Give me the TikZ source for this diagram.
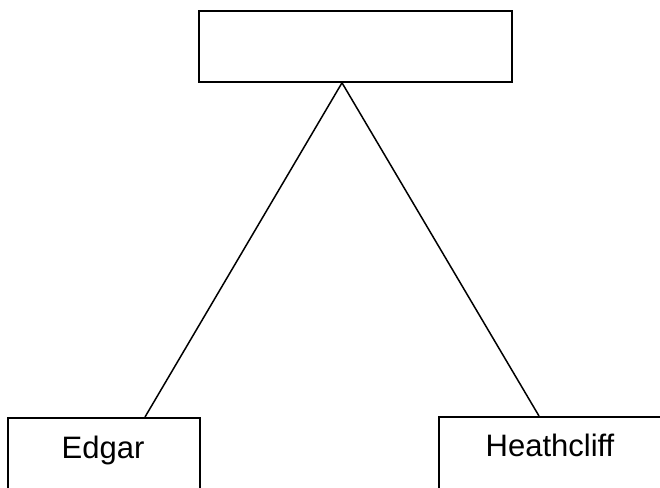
\documentclass[tikz,border=0pt]{standalone}
\usepackage{fontspec}
\setmainfont{Liberation Sans}
\usetikzlibrary{calc}
\begin{document}
\begin{tikzpicture}[x=1pt,y=-1pt,
  box/.style={draw, line width=1.8pt, inner sep=0pt, anchor=north west},
  lbl/.style={anchor=base, inner sep=0pt, font=\fontsize{31}{37}\selectfont},
  link/.style={line width=1.5pt}]
\useasboundingbox (0,0) rectangle (660,487);
\clip (0,0) rectangle (660,487);
\node[box, minimum width=313pt, minimum height=71pt] (top) at (198,10) {};
\node[box, minimum width=192pt, minimum height=80pt] (edgar) at (7,417) {};
\node[box, minimum width=230pt, minimum height=80pt] (heath) at (438,416) {};
\node[lbl] (tedgar) at (103,458) {Edgar};
\node[lbl] (theath) at (550,456) {Heathcliff};
\coordinate (apex) at ($(top.south west)+(144,0)$);
\coordinate (eend) at ($(edgar.north west)+(138,0)$);
\coordinate (hend) at ($(heath.north west)+(101,0)$);
\draw[link] (apex) -- (eend);
\draw[link] (apex) -- (hend);
\end{tikzpicture}
\end{document}
